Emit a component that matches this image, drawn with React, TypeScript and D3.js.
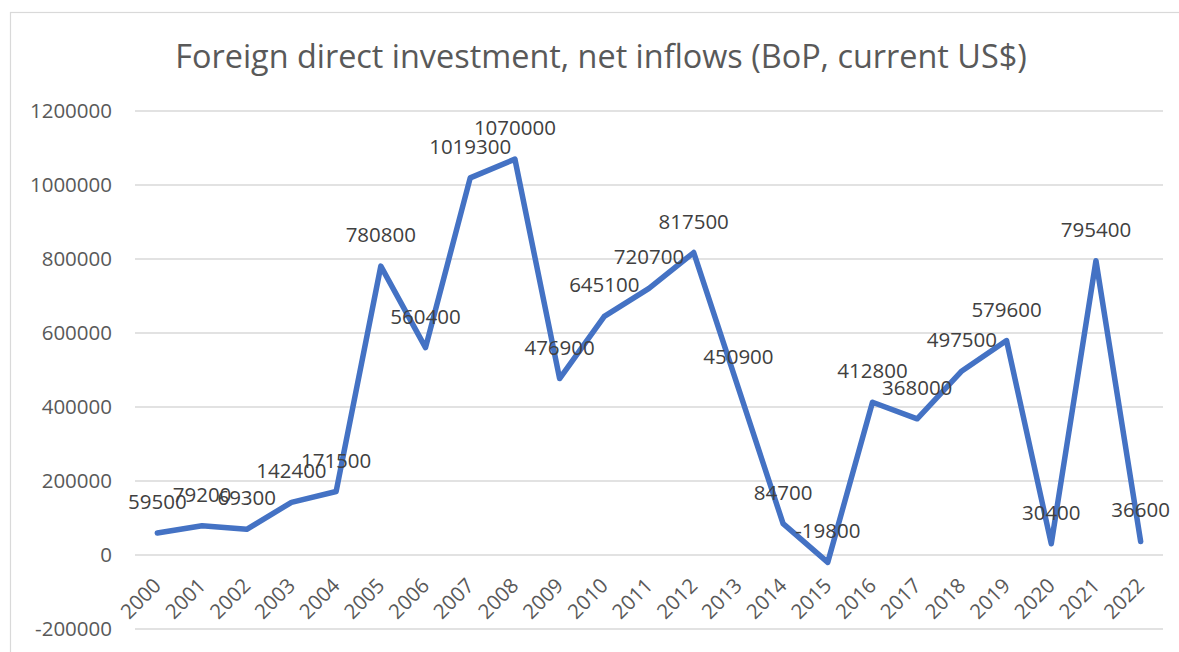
import React, { useEffect, useRef } from "react";
import * as d3 from "d3";

const years = ["2000","2001","2002","2003","2004","2005","2006","2007","2008","2009","2010","2011","2012","2013","2014","2015","2016","2017","2018","2019","2020","2021","2022"];
const values = [59500,79200,69300,142400,171500,780800,560400,1019300,1070000,476900,645100,720700,817500,450900,84700,-19800,412800,368000,497500,579600,30400,795400,36600];
const yTicks = [-200000,0,200000,400000,600000,800000,1000000,1200000];
const title = "Foreign direct investment, net inflows (BoP, current US$)";

const W = 1179, H = 652;
const FONT = "'Open Sans', 'Noto Sans', sans-serif";

export default function App() {
  const ref = useRef<SVGSVGElement>(null);
  useEffect(() => {
    const svg = d3.select(ref.current);
    svg.selectAll("*").remove();
    const x = d3.scaleBand<string>().domain(years).range([135, 1163]);
    const y = d3.scaleLinear().domain([-200000, 1200000]).range([629, 111]);

    svg.append("rect").attr("x", 0).attr("y", 0).attr("width", W).attr("height", H).attr("fill", "#fff");
    svg.append("rect").attr("x", 10.5).attr("y", 12.5).attr("width", W + 20).attr("height", H + 20)
      .attr("fill", "none").attr("stroke", "#d9d9d9").attr("stroke-width", 1.2);

    svg.append("text").attr("x", 601).attr("y", 68).attr("text-anchor", "middle")
      .attr("font-family", FONT).attr("font-size", 32.4).attr("fill", "#595959").text(title);

    const g = svg.append("g");
    g.selectAll("line.grid").data(yTicks).enter().append("line")
      .attr("x1", 135).attr("x2", 1163).attr("y1", d => y(d)).attr("y2", d => y(d))
      .attr("stroke", "#d9d9d9").attr("stroke-width", 1.5);
    g.selectAll("text.ytick").data(yTicks).enter().append("text")
      .attr("x", 112).attr("y", d => y(d) + 7).attr("text-anchor", "end")
      .attr("font-family", FONT).attr("font-size", 20.5).attr("fill", "#595959")
      .text(d => String(d));

    g.selectAll("text.xtick").data(years).enter().append("text")
      .attr("transform", d => `translate(${(x(d) as number) + x.bandwidth() / 2 + 5},${587}) rotate(-45)`)
      .attr("text-anchor", "end")
      .attr("font-family", FONT).attr("font-size", 20.5).attr("fill", "#595959")
      .text(d => d);

    const line = d3.line<number>()
      .x((_, i) => (x(years[i]) as number) + x.bandwidth() / 2)
      .y(d => y(d));
    g.append("path").attr("d", line(values) as string).attr("fill", "none")
      .attr("stroke", "#4472C4").attr("stroke-width", 5.5)
      .attr("stroke-linejoin", "round").attr("stroke-linecap", "round");

    g.selectAll("text.lbl").data(values).enter().append("text")
      .attr("x", (_, i) => (x(years[i]) as number) + x.bandwidth() / 2)
      .attr("y", d => y(d) - 24)
      .attr("text-anchor", "middle")
      .attr("font-family", FONT).attr("font-size", 20.5).attr("fill", "#404040")
      .text(d => String(d));
  }, []);
  return (
    <svg ref={ref} width={W} height={H} style={{ position: "absolute", left: 0, top: 0 }} />
  );
}
